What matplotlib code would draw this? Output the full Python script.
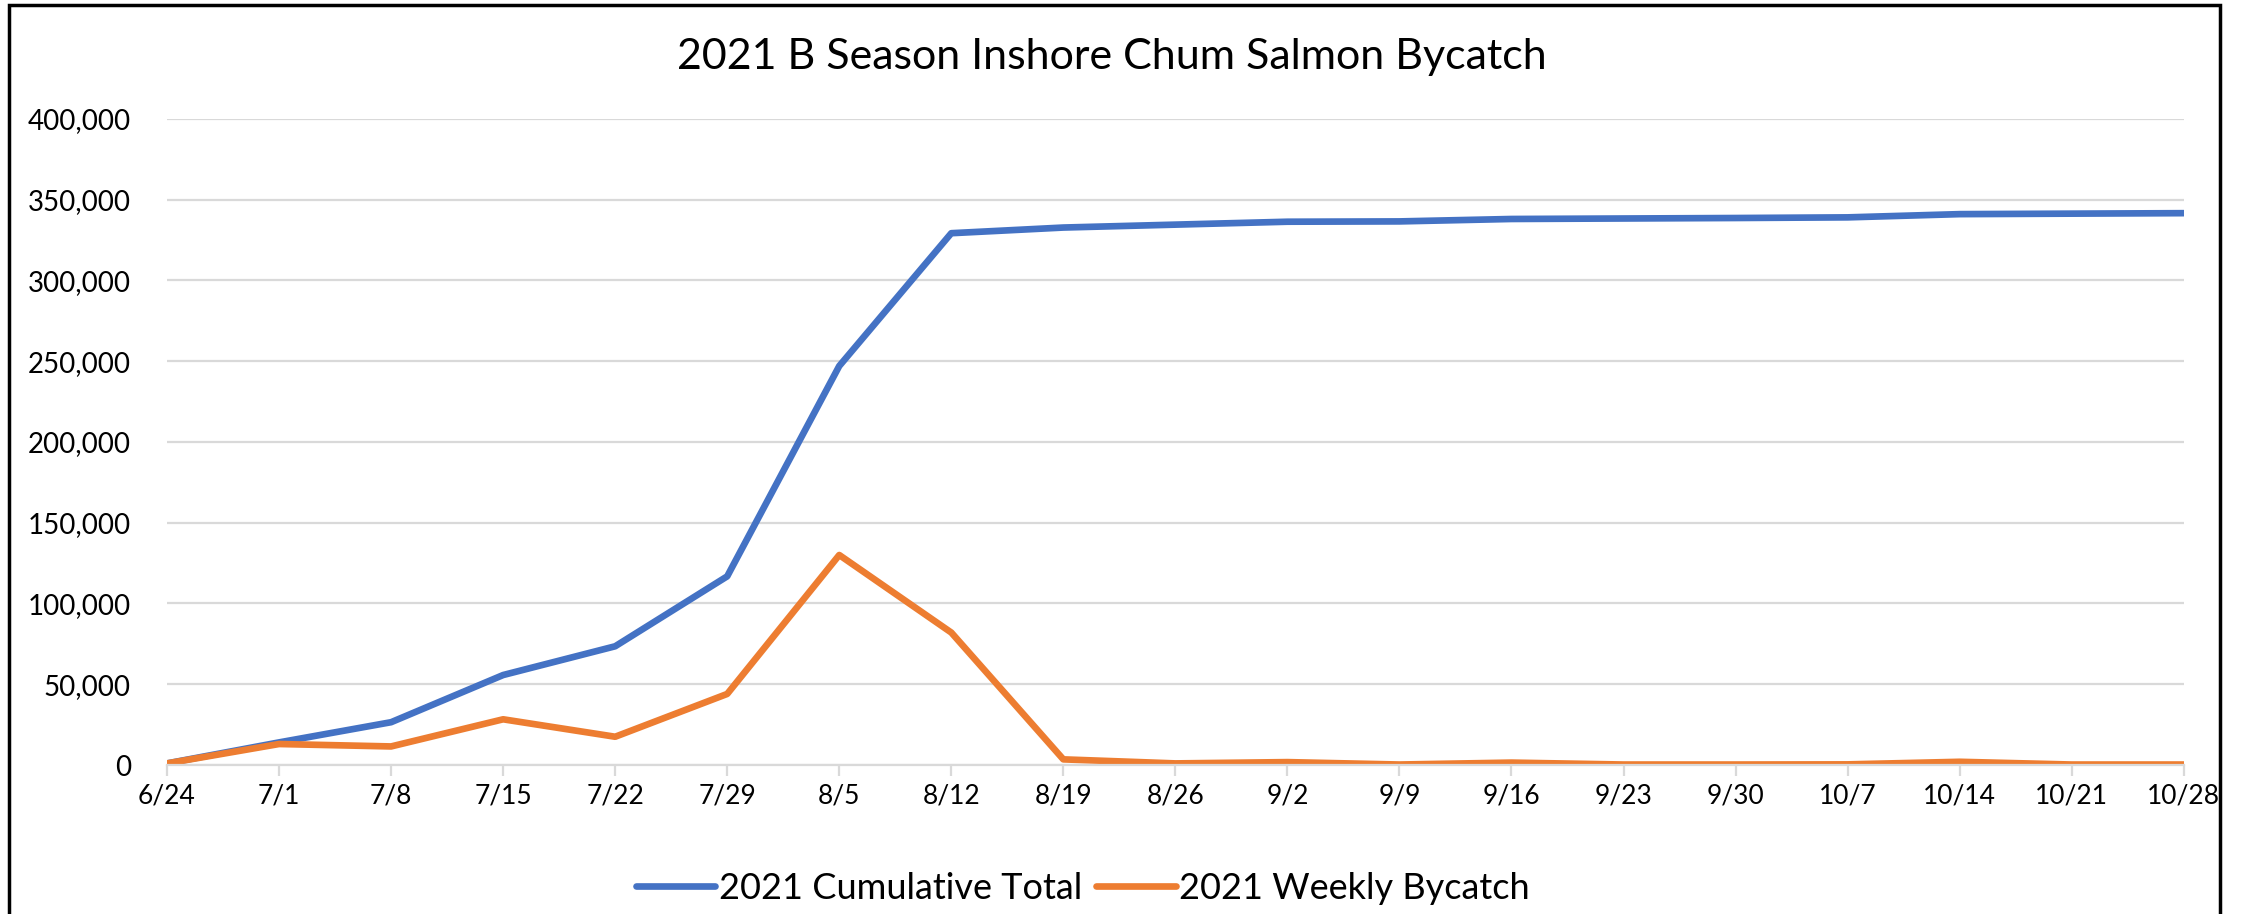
import matplotlib.pyplot as plt
from matplotlib.patches import Rectangle
from matplotlib.ticker import FuncFormatter

plt.rcParams['font.family'] = ['Lato', 'DejaVu Sans']

# weekly dates and bycatch counts
weeks = ['6/24', '7/1', '7/8', '7/15', '7/22', '7/29', '8/5', '8/12', '8/19', '8/26',
         '9/2', '9/9', '9/16', '9/23', '9/30', '10/7', '10/14', '10/21', '10/28']
cumulative = [1000, 14000, 26500, 55700, 73500, 116800, 247000, 329200, 332700, 334500,
              336300, 336500, 338000, 338300, 338600, 339000, 341000, 341300, 341600]
weekly = [1000, 13000, 11500, 28300, 17500, 44000, 130000, 82000, 3500, 1000,
          1800, 300, 1500, 300, 300, 400, 2000, 300, 300]

blue = '#4472C4'
orange = '#ED7D31'
grid_col = '#D9D9D9'

fig = plt.figure(figsize=(22.42, 9.14), dpi=100)
ax = fig.add_axes([0.0745, 0.163, 0.8995, 0.707])

x = list(range(len(weeks)))
ax.plot(x, cumulative, color=blue, lw=4.8, solid_capstyle='round', label='2021 Cumulative Total')
ax.plot(x, weekly, color=orange, lw=4.8, solid_capstyle='round', label='2021 Weekly Bycatch')

ax.set_xlim(0, len(weeks) - 1)
ax.set_ylim(0, 400000)
ax.set_yticks(range(0, 400001, 50000))
ax.yaxis.set_major_formatter(FuncFormatter(lambda v, p: f'{int(v):,}'))
ax.set_xticks(x)
ax.set_xticklabels(weeks)

ax.grid(axis='y', color=grid_col, lw=1.6)
ax.set_axisbelow(True)
for s in ['top', 'right', 'left']:
    ax.spines[s].set_visible(False)
ax.spines['bottom'].set_color(grid_col)
ax.spines['bottom'].set_linewidth(1.6)
ax.tick_params(axis='y', length=0, labelsize=20, pad=26, colors='black')
ax.tick_params(axis='x', length=8, width=1.6, color=grid_col, labelsize=19, pad=5)

fig.suptitle('2021 B Season Inshore Chum Salmon Bycatch', fontsize=31, x=0.496, y=0.958)

fig.legend(loc='center', bbox_to_anchor=(0.483, 0.028), ncol=2, frameon=False,
           fontsize=26, handlelength=2.2, columnspacing=0.4, handletextpad=0.1)

# outer frame of the chart image
fig.patches.append(Rectangle((0.004, -0.05), 0.986, 1.045, transform=fig.transFigure,
                             fill=False, edgecolor='black', lw=2.5, clip_on=False))

fig.savefig('out.png', dpi=100)
